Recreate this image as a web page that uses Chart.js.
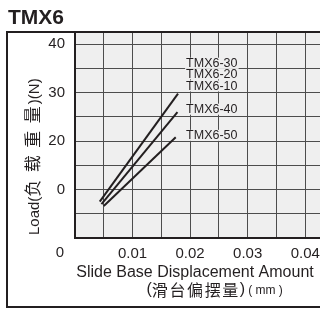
<!DOCTYPE html>
<html><head><meta charset="utf-8">
<script src="https://cdn.jsdelivr.net/npm/chart.js@4"></script>
<style>
html,body{margin:0;padding:0;background:#fff;}
#wrap{width:320px;height:309px;overflow:hidden;position:relative;}
#c{position:absolute;left:0;top:0;}
</style></head><body>
<div id="wrap"><canvas id="c" width="350" height="309"></canvas></div>
<script>
// ---- data ----
const chartTitle = 'TMX6';
const seriesNames = ['TMX6-30/20/10', 'TMX6-40', 'TMX6-50'];
const topLineX = [0.0043, 0.0179];
const topLineY = [7.5, 29.8];
const midLineX = [0.0046, 0.0178];
const midLineY = [7.0, 26.0];
const lowLineX = [0.0050, 0.0175];
const lowLineY = [6.6, 20.8];
const seriesLabels = ['TMX6-30', 'TMX6-20', 'TMX6-10', 'TMX6-40', 'TMX6-50'];
const xGridValues = [0, 0.005, 0.01, 0.015, 0.02, 0.025, 0.03, 0.035, 0.04, 0.045];
const yGridValues = [0, 5, 10, 15, 20, 25, 30, 35, 40];
const xTickValues = [0.01, 0.02, 0.03, 0.04];
const xTickLabels = ['0.01', '0.02', '0.03', '0.04'];
const yTickValues = [40, 30, 20, 10];
const yTickLabels = ['40', '30', '20', '0'];
const originLabel = '0';
const yTitleParts = ['Load(', '负载重量', ')(N)'];
const xTitleLine1 = 'Slide Base Displacement Amount';
const xTitleLine2Parts = ['(', '滑台偏摆量', ')', '( mm )'];

// ---- label anchors (data units) ----
const labelAnchorX = 0.0193;
const labelAnchorY = [36.1, 33.9, 31.4, 26.6, 21.2];

const INK = '#231f20';
const GRID = '#4d4d4d';
const LAT = '"Liberation Sans", Arial, sans-serif';
const CJK = '"Noto Sans CJK SC", "Liberation Sans", sans-serif';

function pts(xs, ys) { return xs.map((x, i) => ({ x: x, y: ys[i] })); }

const deco = {
  id: 'deco',
  beforeDraw(chart) {
    const { ctx, chartArea: a } = chart;
    ctx.save();
    ctx.fillStyle = '#ffffff';
    ctx.fillRect(0, 0, chart.width, chart.height);
    ctx.fillStyle = '#efefef';
    ctx.fillRect(a.left, a.top, a.right - a.left, a.bottom - a.top);
    ctx.restore();
  },
  afterDraw(chart) {
    const { ctx, chartArea: a, scales } = chart;
    const xs = scales.x, ys = scales.y;
    ctx.save();
    // series labels with background boxes
    ctx.font = '12.5px ' + LAT;
    ctx.textBaseline = 'middle';
    ctx.textAlign = 'left';
    seriesLabels.forEach((t, i) => {
      const px = xs.getPixelForValue(labelAnchorX);
      const py = ys.getPixelForValue(labelAnchorY[i]);
      const w = ctx.measureText(t).width;
      ctx.fillStyle = '#efefef';
      ctx.fillRect(px - 1, py - 5.5, w + 2, 11);
      ctx.fillStyle = INK;
      ctx.fillText(t, px, py + 0.5);
    });
    // origin label
    ctx.font = '15px ' + LAT;
    ctx.textAlign = 'center';
    ctx.fillStyle = INK;
    ctx.fillText(originLabel, a.left - 15, 253);
    // y title
    ctx.save();
    ctx.translate(38.5, 235);
    ctx.rotate(-Math.PI / 2);
    ctx.textBaseline = 'alphabetic';
    ctx.textAlign = 'left';
    let x = 0;
    ctx.font = '15px ' + LAT;
    ctx.fillText(yTitleParts[0], x, 0);
    x += ctx.measureText(yTitleParts[0]).width;
    ctx.font = '17px ' + CJK;
    const chars = Array.from(yTitleParts[1]);
    chars.forEach((ch, i) => { ctx.fillText(ch, x + i * 24.5, 0); });
    x += (chars.length - 1) * 24.5 + 17 + 2;
    ctx.font = '15px ' + LAT;
    ctx.fillText(yTitleParts[2], x, 0);
    ctx.restore();
    // x title
    ctx.textBaseline = 'middle';
    ctx.textAlign = 'center';
    ctx.font = '16px ' + LAT;
    ctx.fillText(xTitleLine1, 195, 273);
    ctx.textAlign = 'left';
    let cx = 146.5;
    ctx.font = '16px ' + LAT;
    ctx.fillText(xTitleLine2Parts[0], cx, 290);
    cx += ctx.measureText(xTitleLine2Parts[0]).width;
    ctx.font = '16px ' + CJK;
    Array.from(xTitleLine2Parts[1]).forEach((ch) => { ctx.fillText(ch, cx, 290); cx += 17.6; });
    ctx.font = '16px ' + LAT;
    ctx.fillText(xTitleLine2Parts[2], cx, 290);
    cx += ctx.measureText(xTitleLine2Parts[2]).width + 3;
    ctx.font = '12px ' + LAT;
    ctx.fillText(xTitleLine2Parts[3], cx, 291);
    // outer frame
    ctx.strokeStyle = INK;
    ctx.lineWidth = 2;
    ctx.strokeRect(7, 32, 400, 275);
    ctx.restore();
  }
};

const lineStyle = { borderColor: INK, borderWidth: 2, pointRadius: 0, fill: false, tension: 0, showLine: true };

new Chart(document.getElementById('c'), {
  type: 'scatter',
  data: {
    datasets: [
      Object.assign({ label: seriesNames[0], data: pts(topLineX, topLineY) }, lineStyle),
      Object.assign({ label: seriesNames[1], data: pts(midLineX, midLineY) }, lineStyle),
      Object.assign({ label: seriesNames[2], data: pts(lowLineX, lowLineY) }, lineStyle)
    ]
  },
  options: {
    responsive: false,
    animation: false,
    devicePixelRatio: 1,
    layout: { padding: { left: 8, right: 16, top: 0, bottom: 0 } },
    plugins: {
      legend: { display: false },
      tooltip: { enabled: false },
      title: {
        display: true, text: chartTitle, align: 'start', color: INK,
        font: { family: LAT, size: 21, weight: 'bold' },
        padding: { top: 6, bottom: 1 }
      }
    },
    scales: {
      x: {
        type: 'linear', min: 0, max: 0.045,
        afterBuildTicks: (ax) => { ax.ticks = xGridValues.map(v => ({ value: v })); },
        afterFit: (ax) => { ax.height = 71; },
        grid: { color: GRID, lineWidth: 1, drawTicks: false },
        border: { color: INK, width: 2 },
        ticks: {
          autoSkip: false, maxRotation: 0, padding: 7, color: INK,
          font: { family: LAT, size: 15 },
          callback: (v) => {
            const i = xTickValues.findIndex(t => Math.abs(t - v) < 1e-7);
            return i >= 0 ? xTickLabels[i] : '';
          }
        }
      },
      y: {
        type: 'linear', min: 0, max: 42.5,
        afterBuildTicks: (ax) => { ax.ticks = yGridValues.map(v => ({ value: v })); },
        afterFit: (ax) => { ax.width = 67; },
        grid: { color: GRID, lineWidth: 1, drawTicks: false },
        border: { color: INK, width: 2 },
        ticks: {
          autoSkip: false, padding: 10, color: INK,
          font: { family: LAT, size: 15 },
          callback: (v) => {
            const i = yTickValues.findIndex(t => Math.abs(t - v) < 1e-7);
            return i >= 0 ? yTickLabels[i] : '';
          }
        }
      }
    }
  },
  plugins: [deco]
});
</script>
</body></html>
